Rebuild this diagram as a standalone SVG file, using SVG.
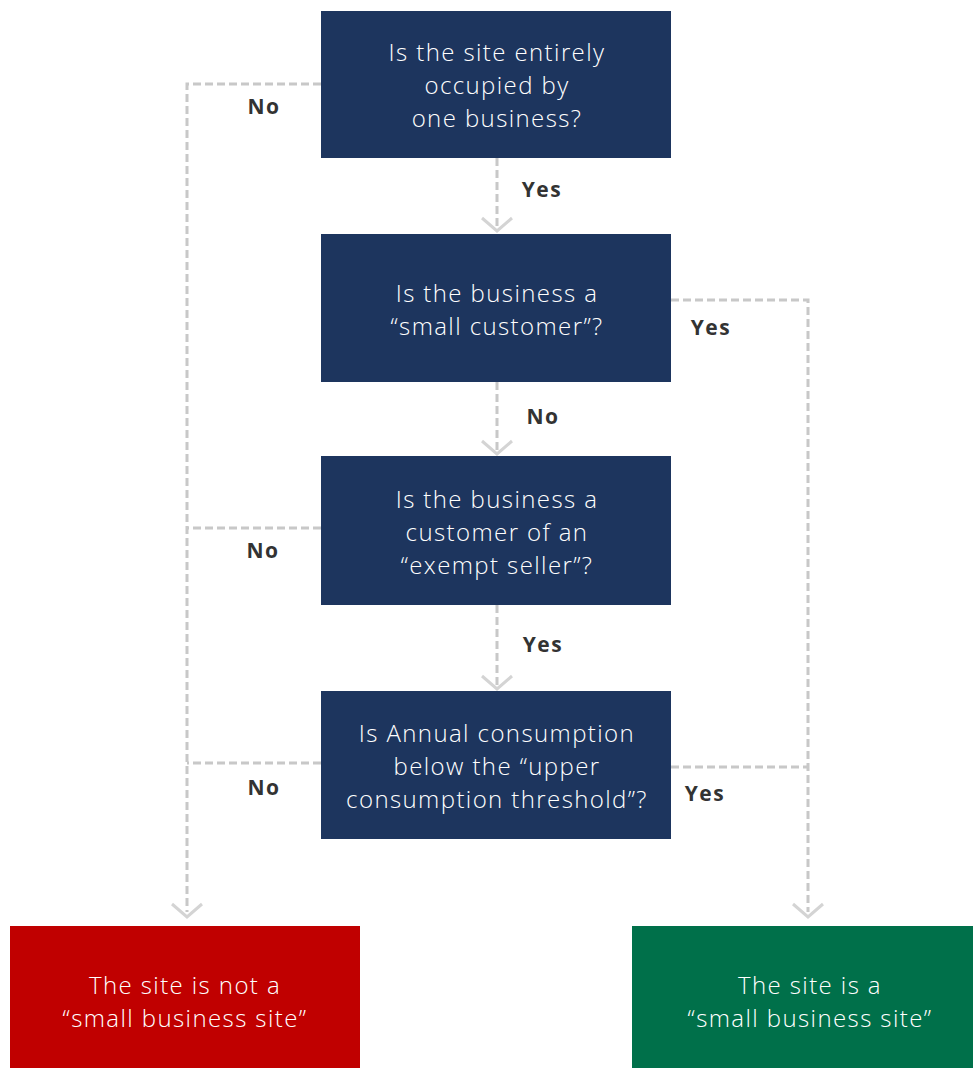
<svg xmlns="http://www.w3.org/2000/svg" width="973" height="1068" viewBox="0 0 973 1068">
<style>
.q{fill:#1d355e}
.t{font-family:"Open Sans",Lato,sans-serif;font-weight:300;font-size:24px;letter-spacing:1.4px;fill:#fff;text-anchor:middle}
.l{font-family:"Open Sans",Lato,sans-serif;font-weight:700;font-size:21px;letter-spacing:1.5px;fill:#333;text-anchor:middle}
.c{fill:none;stroke:#c8c8c8;stroke-width:3;stroke-dasharray:8 4}
.a{fill:none;stroke:#d4d4d4;stroke-width:3}
</style>
<rect width="973" height="1068" fill="#fff"/>
<g id="connectors">
<path class="c" d="M321 84H187V912"/>
<path class="c" d="M321 528H187"/>
<path class="c" d="M321 763H187"/>
<path class="c" d="M671 300H808V912"/>
<path class="c" d="M671 767H808"/>
<path class="c" d="M497 158V230"/>
<path class="c" d="M497 382V453"/>
<path class="c" d="M497 605V688"/>
<path class="a" d="M482 218L497 231L512 218"/>
<path class="a" d="M482 441L497 454L512 441"/>
<path class="a" d="M482 676L497 689L512 676"/>
<path class="a" d="M172 904L187 917L202 904"/>
<path class="a" d="M793 904L808 917L823 904"/>
<text class="l" x="264" y="114">No</text>
<text class="l" x="542" y="197">Yes</text>
<text class="l" x="711" y="335">Yes</text>
<text class="l" x="543" y="424">No</text>
<text class="l" x="263" y="558">No</text>
<text class="l" x="543" y="652">Yes</text>
<text class="l" x="264" y="795">No</text>
<text class="l" x="705" y="801">Yes</text>
</g>
<g id="q1"><rect class="q" x="321" y="11" width="350" height="147"/>
<text class="t" x="497" y="61">Is the site entirely</text>
<text class="t" x="497" y="94">occupied by</text>
<text class="t" x="497" y="127">one business?</text></g>
<g id="q2"><rect class="q" x="321" y="234" width="350" height="148"/>
<text class="t" x="497" y="302">Is the business a</text>
<text class="t" x="497" y="335">“small customer”?</text></g>
<g id="q3"><rect class="q" x="321" y="456" width="350" height="149"/>
<text class="t" x="497" y="508">Is the business a</text>
<text class="t" x="497" y="541">customer of an</text>
<text class="t" x="497" y="574">“exempt seller”?</text></g>
<g id="q4"><rect class="q" x="321" y="691" width="350" height="148"/>
<text class="t" x="497" y="742">Is Annual consumption</text>
<text class="t" x="497" y="775">below the “upper</text>
<text class="t" x="497" y="808">consumption threshold”?</text></g>
<g id="notsmall"><rect x="10" y="926" width="350" height="142" fill="#c00000"/>
<text class="t" x="185" y="994">The site is not a</text>
<text class="t" x="185" y="1027">“small business site”</text></g>
<g id="small"><rect x="632" y="926" width="341" height="142" fill="#00704a"/>
<text class="t" x="810" y="994">The site is a</text>
<text class="t" x="810" y="1027">“small business site”</text></g>
</svg>
